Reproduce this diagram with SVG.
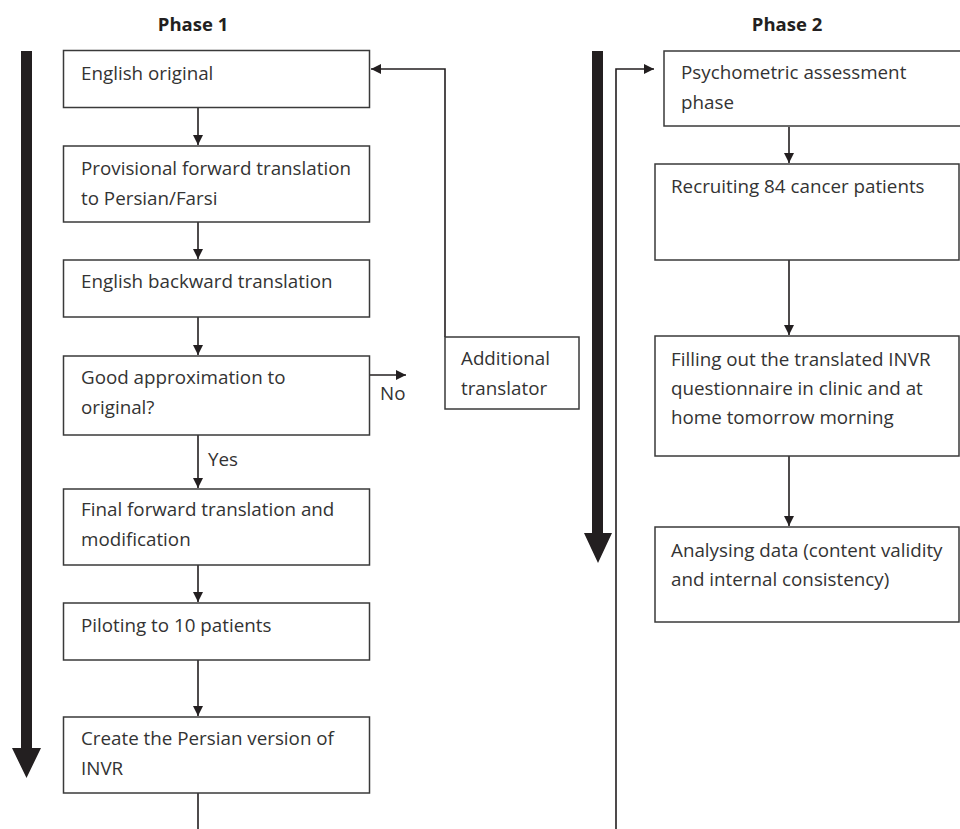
<svg xmlns="http://www.w3.org/2000/svg" width="960" height="829" viewBox="0 0 960 829">
<defs>
<marker id="ah" viewBox="0 0 10 10" refX="10" refY="5" markerWidth="10" markerHeight="10" markerUnits="userSpaceOnUse" orient="auto">
<path d="M0,0 L10,5 L0,10 z" fill="#231f20"/>
</marker>
<style>
.box{fill:#fff;stroke:#3a3a3a;stroke-width:1.5}
.t{font-family:"Open Sans","Liberation Sans",sans-serif;font-size:18.8px;fill:#333}
.h{font-family:"Open Sans","Liberation Sans",sans-serif;font-size:18.5px;font-weight:bold;fill:#231f20}
.c{fill:none;stroke:#231f20;stroke-width:1.6}
.big{fill:#231f20}
</style>
</defs>
<rect width="960" height="829" fill="#fff"/>
<text class="h" x="193" y="31" text-anchor="middle">Phase 1</text>
<text class="h" x="787" y="31" text-anchor="middle">Phase 2</text>
<g id="phase1-arrow"><path class="big" d="M21,51 H32 V748 H41 L26.5,778 L12,748 H21 Z"/></g>
<g id="phase2-arrow"><path class="big" d="M592,51 H603 V533 H612 L598,563 L584,533 H592 Z"/></g>
<g id="connectors">
<path class="c" d="M198,108 V145" marker-end="url(#ah)"/>
<path class="c" d="M198,222 V259" marker-end="url(#ah)"/>
<path class="c" d="M198,317 V355" marker-end="url(#ah)"/>
<path class="c" d="M370,375 H406" marker-end="url(#ah)"/>
<path class="c" d="M198,435 V488" marker-end="url(#ah)"/>
<path class="c" d="M198,565 V602" marker-end="url(#ah)"/>
<path class="c" d="M198,660 V716" marker-end="url(#ah)"/>
<path class="c" d="M198,793 V829"/>
<path class="c" d="M445,337 V69 H371" marker-end="url(#ah)"/>
<path class="c" d="M616,829 V69 H654" marker-end="url(#ah)"/>
<path class="c" d="M789,127 V163" marker-end="url(#ah)"/>
<path class="c" d="M789,260 V335" marker-end="url(#ah)"/>
<path class="c" d="M789,456 V526" marker-end="url(#ah)"/>
<text class="t" x="380" y="400">No</text>
<text class="t" x="208" y="466">Yes</text>
</g>
<g id="english-original"><rect class="box" x="63.5" y="50.5" width="306" height="57"/><text class="t" x="81" y="80">English original</text></g>
<g id="provisional"><rect class="box" x="63.5" y="146" width="306" height="76"/><text class="t" x="81" y="175">Provisional forward translation</text><text class="t" x="81" y="205">to Persian/Farsi</text></g>
<g id="backward"><rect class="box" x="63.5" y="260" width="306" height="57"/><text class="t" x="81" y="288">English backward translation</text></g>
<g id="good-approx"><rect class="box" x="63.5" y="356" width="306" height="79"/><text class="t" x="81" y="384">Good approximation to</text><text class="t" x="81" y="414">original?</text></g>
<g id="final-forward"><rect class="box" x="63.5" y="489" width="306" height="76"/><text class="t" x="81" y="516">Final forward translation and</text><text class="t" x="81" y="546">modification</text></g>
<g id="piloting"><rect class="box" x="63.5" y="603" width="306" height="57"/><text class="t" x="81" y="632">Piloting to 10 patients</text></g>
<g id="persian-version"><rect class="box" x="63.5" y="717" width="306" height="76"/><text class="t" x="81" y="745">Create the Persian version of</text><text class="t" x="81" y="775">INVR</text></g>
<g id="additional-translator"><rect class="box" x="445" y="337" width="134" height="72"/><text class="t" x="461" y="365">Additional</text><text class="t" x="461" y="395">translator</text></g>
<g id="psychometric"><rect class="box" x="664" y="51" width="310" height="75"/><text class="t" x="681" y="79">Psychometric assessment</text><text class="t" x="681" y="109">phase</text></g>
<g id="recruiting"><rect class="box" x="655" y="164" width="304" height="96"/><text class="t" x="671" y="193">Recruiting 84 cancer patients</text></g>
<g id="filling"><rect class="box" x="655" y="336" width="304" height="120"/><text class="t" x="671" y="366">Filling out the translated INVR</text><text class="t" x="671" y="395">questionnaire in clinic and at</text><text class="t" x="671" y="424">home tomorrow morning</text></g>
<g id="analysing"><rect class="box" x="655" y="527" width="304" height="95"/><text class="t" x="671" y="557">Analysing data (content validity</text><text class="t" x="671" y="586">and internal consistency)</text></g>
</svg>
